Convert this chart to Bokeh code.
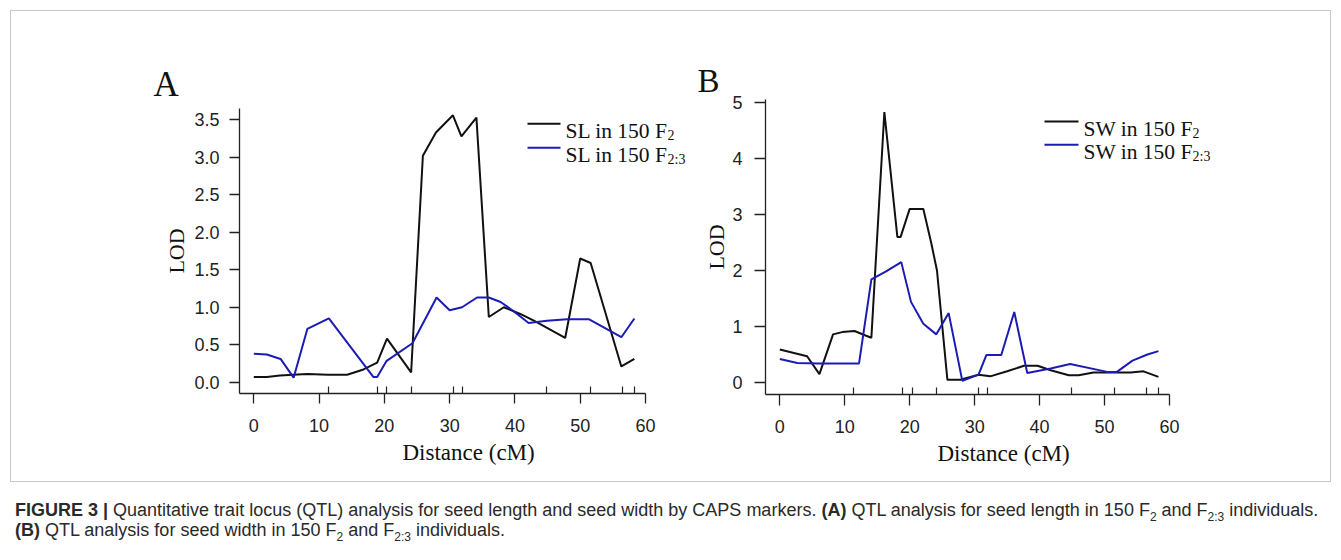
from bokeh.plotting import figure
from bokeh.models import Range1d, FixedTicker, Label, Arrow, Div, NumeralTickFormatter, Title
from bokeh.layouts import row, column
from bokeh.embed import file_html
from bokeh.resources import INLINE

# ---------------- data ----------------
marker_pos = [11.4, 18.9, 20.4, 24.1, 30.6, 32.0, 44.9, 51.6, 56.5, 58.3]
x_ticks = [0, 10, 20, 30, 40, 50, 60]
ya_ticks = [0.0, 0.5, 1.0, 1.5, 2.0, 2.5, 3.0, 3.5]
yb_ticks = [0, 1, 2, 3, 4, 5]

sl_f2_pos = [0, 2, 4, 6, 8.2, 11.4, 14.3, 16.8, 18.9, 20.4, 24.1, 25.9, 27.9, 30.5, 31.8,
             34.1, 36.0, 38.3, 40.8, 42.9, 47.7, 50.0, 51.6, 56.3, 58.3]
sl_f2_lod = [0.07, 0.07, 0.09, 0.10, 0.11, 0.10, 0.10, 0.17, 0.26, 0.58, 0.13, 3.02, 3.33, 3.56, 3.28,
             3.53, 0.87, 1.00, 0.91, 0.82, 0.59, 1.65, 1.59, 0.21, 0.31]

sl_f23_pos = [0, 2.0, 4.1, 6.1, 8.2, 11.5, 18.3, 18.9, 20.3, 24.3, 28.0, 30.0, 31.9, 34.2,
              36.0, 37.8, 39.6, 42.1, 44.9, 48.0, 51.3, 53.6, 56.3, 58.3]
sl_f23_lod = [0.38, 0.37, 0.31, 0.06, 0.71, 0.85, 0.07, 0.07, 0.28, 0.52, 1.13, 0.96, 1.00, 1.13,
              1.13, 1.07, 0.96, 0.79, 0.82, 0.84, 0.84, 0.73, 0.60, 0.85]

sw_f2_pos = [0, 4.2, 6.1, 8.2, 9.6, 11.5, 13.2, 14.1, 16.1, 18.1, 18.6, 20.0, 22.1, 23.3, 24.2,
             25.8, 27.8, 30.6, 32.4, 35.0, 37.6, 39.7, 41.7, 44.5, 46.0, 48.3, 54.0, 56.0, 58.3]
sw_f2_lod = [0.59, 0.47, 0.15, 0.86, 0.90, 0.92, 0.84, 0.80, 4.83, 2.60, 2.60, 3.10, 3.10, 2.50, 2.00,
             0.05, 0.05, 0.14, 0.11, 0.20, 0.30, 0.30, 0.22, 0.13, 0.13, 0.18, 0.18, 0.20, 0.10]

sw_f23_pos = [0, 2.7, 6.0, 12.2, 14.1, 16.3, 18.7, 20.2, 22.1, 24.1, 26.0, 28.1, 30.6, 31.8,
              34.1, 36.1, 38.1, 41.7, 44.7, 50.4, 51.9, 54.3, 56.6, 58.3]
sw_f23_lod = [0.42, 0.35, 0.34, 0.34, 1.84, 1.98, 2.15, 1.44, 1.05, 0.86, 1.24, 0.03, 0.14, 0.49,
              0.49, 1.26, 0.17, 0.25, 0.33, 0.19, 0.19, 0.39, 0.50, 0.56]

BLACK = "#111111"
BLUE = "#1c1cb4"
AX = "#222222"
SERIF = "Liberation Serif"
SANS = "Liberation Sans"
TOTAL_W = 1341
FIG_H = 492


def make_panel(width, height, left, top, fw, fh, xr, yr, yticks, yfmt, tick_len, xstand, ystand, lstand):
    p = figure(width=width, height=height, x_range=Range1d(*xr), y_range=Range1d(*yr),
               output_backend="svg", toolbar_location=None, frame_align=False,
               min_border_left=left, min_border_top=top,
               min_border_right=width - left - fw, min_border_bottom=height - top - fh)
    p.grid.visible = False
    p.outline_line_color = None
    p.background_fill_color = None
    p.border_fill_color = None
    for ax in (p.xaxis[0], p.yaxis[0]):
        ax.axis_line_color = AX
        ax.axis_line_width = 1.3
        ax.major_tick_line_color = AX
        ax.major_tick_line_width = 1.3
        ax.major_tick_out = tick_len
        ax.major_tick_in = 0
        ax.major_label_text_font = SANS
        ax.major_label_text_font_size = "18px"
        ax.major_label_text_color = "#222222"
    xa = p.xaxis[0]
    xa.ticker = FixedTicker(ticks=x_ticks, minor_ticks=marker_pos)
    xa.bounds = (xr[0], 60)
    xa.minor_tick_in = 7
    xa.minor_tick_out = 0
    xa.minor_tick_line_color = AX
    xa.minor_tick_line_width = 1.2
    xa.major_label_standoff = xstand
    ya = p.yaxis[0]
    ya.ticker = FixedTicker(ticks=yticks)
    ya.minor_tick_line_color = None
    ya.formatter = NumeralTickFormatter(format=yfmt)
    ya.major_label_standoff = ystand
    ya.axis_label = "LOD"
    ya.axis_label_text_font = SERIF
    ya.axis_label_text_font_size = "22px"
    ya.axis_label_text_font_style = "normal"
    ya.axis_label_text_color = "#111111"
    ya.axis_label_standoff = lstand
    return p


def converter(left, top, fw, fh, xr, yr):
    def cx(px):
        return xr[0] + (px - left) / fw * (xr[1] - xr[0])

    def cy(py):
        return yr[1] - (py - top) / fh * (yr[1] - yr[0])
    return cx, cy


def decorate(p, cx, cy, frame_left, letter, letter_x, letter_size, letter_standoff,
             title_left, leg_line_x, leg_rows, leg_text_x, prefix, sub_dx):
    p.title.text = letter
    p.title.align = "left"
    p.title.offset = letter_x - frame_left
    p.title.text_font = SERIF
    p.title.text_font_size = letter_size
    p.title.text_font_style = "normal"
    p.title.text_color = "#111111"
    try:
        p.title.standoff = letter_standoff
    except ValueError:
        p.title.standoff = 0
    xt = Title(text="Distance (cM)", align="left", offset=title_left - frame_left,
               vertical_align="top", standoff=10, text_font=SERIF, text_font_size="23px",
               text_font_style="normal", text_color="#111111")
    p.add_layout(xt, "below")
    for (ly, color, sub) in leg_rows:
        p.add_layout(Arrow(end=None, x_start=cx(leg_line_x[0]), x_end=cx(leg_line_x[1]),
                           y_start=cy(ly), y_end=cy(ly), line_color=color, line_width=2))
        p.add_layout(Label(x=cx(leg_text_x), y=cy(ly + 7), text=prefix, text_font=SERIF,
                           text_font_size="21.5px", text_color="#111111", text_baseline="alphabetic"))
        p.add_layout(Label(x=cx(leg_text_x + sub_dx), y=cy(ly + 11.5), text=sub, text_font=SERIF,
                           text_font_size="14px", text_color="#111111", text_baseline="alphabetic"))


# ---- panel A (page coords) ----
A_W = 694
A_left, A_top = 239, 108
A_fw, A_fh = A_W - A_left, 285
A_px_per = (645 - 253.3) / 60.0
A_xr = (-14.3 / A_px_per, -14.3 / A_px_per + A_fw / A_px_per)
A_yr = (-0.151, 3.651)
pA = make_panel(A_W, FIG_H, A_left, A_top, A_fw, A_fh, A_xr, A_yr, ya_ticks, "0.0", 10, 15, 10, 2)
pA.line(sl_f2_pos, sl_f2_lod, line_color=BLACK, line_width=2)
pA.line(sl_f23_pos, sl_f23_lod, line_color=BLUE, line_width=2)
cxA, cyA = converter(A_left, A_top, A_fw, A_fh, A_xr, A_yr)
decorate(pA, cxA, cyA, A_left, "A", 153, "35px", 10, 402, (527, 560),
         [(123.3, BLACK, "2"), (147.3, BLUE, "2:3")], 565, "SL in 150 F", 102)

# ---- panel B ----
B_X0 = A_W
B_W = TOTAL_W - A_W
B_left, B_top = 765 - B_X0, 99
B_fw, B_fh = B_W - B_left, 295
B_px_per = (1169 - 779.3) / 60.0
B_xr = (-14.3 / B_px_per, -14.3 / B_px_per + B_fw / B_px_per)
B_yr = (-0.214, 5.054)
pB = make_panel(B_W, FIG_H, B_left, B_top, B_fw, B_fh, B_xr, B_yr, yb_ticks, "0", 11, 14, 12, 0)
pB.line(sw_f2_pos, sw_f2_lod, line_color=BLACK, line_width=2)
pB.line(sw_f23_pos, sw_f23_lod, line_color=BLUE, line_width=2)
cxB, cyB = converter(765, B_top, B_fw, B_fh, B_xr, B_yr)
decorate(pB, cxB, cyB, 765, "B", 697, "33px", 2, 937, (1044, 1078),
         [(121, BLACK, "2"), (144.3, BLUE, "2:3")], 1083, "SW in 150 F", 109)

SUB = '<sub style="font-size:12px;line-height:0;">'
caption_html = (
    '<div style="font-family:\'Liberation Sans\',Arial,sans-serif;'
    'font-size:18px;line-height:20px;color:#2a2a2a;white-space:nowrap;">'
    '<b>FIGURE 3 |</b> Quantitative trait locus (QTL) analysis for seed length and seed width by CAPS markers. '
    '<b>(A)</b> QTL analysis for seed length in 150 F' + SUB + '2</sub> and '
    'F' + SUB + '2:3</sub> individuals.<br>'
    '<b>(B)</b> QTL analysis for seed width in 150 F' + SUB + '2</sub> and '
    'F' + SUB + '2:3</sub> individuals.'
    '</div>'
)
cap = Div(text=caption_html, width=TOTAL_W, height=60,
          styles={"padding-top": "3px", "padding-left": "10px"})

plots = row(pA, pB, styles={"outline": "1px solid #c8c8c8", "outline-offset": "-11px"})
layout = column(plots, cap)

open("out.html", "w").write(file_html(layout, INLINE))
